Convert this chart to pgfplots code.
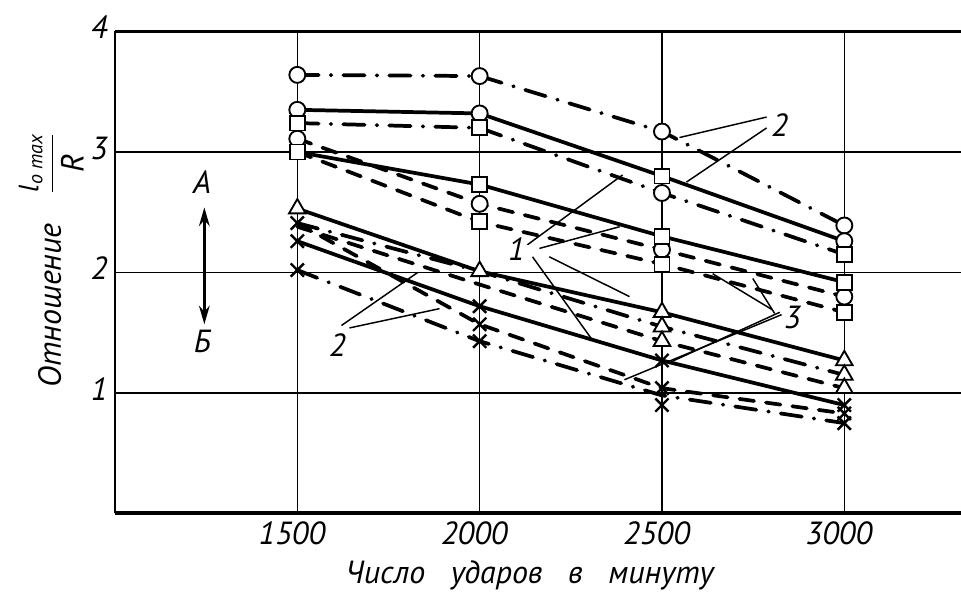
\documentclass[border=0pt]{standalone}
\usepackage{fontspec}
\setmainfont{PT Sans}
\usepackage{pgfplots}
\pgfplotsset{compat=1.18}
\usetikzlibrary{arrows.meta}

\newcommand{\lbl}{\itshape\fontsize{24}{26}\selectfont}

\pgfplotsset{
  solidln/.style={black, line width=2.8pt, no marks, line cap=round},
  dashdotln/.style={solidln, dash pattern=on 16pt off 9pt on 0.5pt off 9pt},
  dashedln/.style={solidln, dash pattern=on 11pt off 9pt},
  pts/.style={only marks, mark options={solid, fill=white, draw=black, line width=1.4pt}},
}

\begin{document}
\begin{tikzpicture}
\useasboundingbox (-86.25pt,-61.875pt) rectangle (634.5pt,385.125pt);
\begin{axis}[
  scale only axis, width=634.5pt, height=361.5pt,
  xmin=1000, xmax=3320, ymin=0, ymax=4,
  axis lines=left, axis line style={-},
  x axis line style={line width=3pt},
  y axis line style={line width=2.2pt},
  xtick={1500,2000,2500,3000}, ytick={1,2,3,4},
  major tick length=0pt,
  grid=major, major grid style={black, line width=1.2pt},
  /pgf/number format/assume math mode=true,
  /pgf/number format/1000 sep={},
  tick label style={font=\lbl},
  xticklabel style={xshift=-4pt, yshift=-3pt},
  yticklabel style={yshift=3pt, xshift=-2pt},
  clip=false,
]
\draw[line width=2pt] (axis cs:1000,4) -- (axis cs:3320,4);

% upper group
\addplot[dashdotln] coordinates {(1500,3.64) (2000,3.63) (2500,3.17) (3000,2.39)};
\addplot[solidln]   coordinates {(1500,3.35) (2000,3.32) (2500,2.80) (3000,2.26)};
\addplot[dashdotln] coordinates {(1500,3.24) (2000,3.20) (2500,2.66) (3000,2.15)};
% middle group
\addplot[solidln]   coordinates {(1500,3.00) (2000,2.73) (2500,2.30) (3000,1.92)};
\addplot[dashedln]  coordinates {(1500,3.11) (2000,2.57) (2500,2.19) (3000,1.80)};
\addplot[dashedln]  coordinates {(1500,3.00) (2000,2.42) (2500,2.07) (3000,1.67)};
% lower group
\addplot[solidln]   coordinates {(1500,2.53) (2000,2.01) (2500,1.67) (3000,1.27)};
\addplot[dashdotln] coordinates {(1500,2.41) (2000,2.01) (2500,1.55) (3000,1.15)};
\addplot[dashedln]  coordinates {(1500,2.38) (2000,1.90) (2500,1.43) (3000,1.04)};
\addplot[solidln]   coordinates {(1500,2.26) (2000,1.72) (2500,1.27) (3000,0.90)};
\addplot[dashedln]  coordinates {(1500,2.41) (2000,1.57) (2500,1.04) (3000,0.83)};
\addplot[dashdotln] coordinates {(1500,2.02) (2000,1.43) (2500,0.98) (3000,0.75)};

% markers
\addplot[pts, mark=*, mark size=6pt] coordinates {
  (1500,3.64) (1500,3.35) (1500,3.11)
  (2000,3.63) (2000,3.32) (2000,2.57)
  (2500,3.17) (2500,2.66) (2500,2.19)
  (3000,2.39) (3000,2.26) (3000,1.80)};
\addplot[pts, mark=square*, mark size=5.6pt] coordinates {
  (1500,3.24) (1500,3.00)
  (2000,3.20) (2000,2.73) (2000,2.42)
  (2500,2.80) (2500,2.30) (2500,2.07)
  (3000,2.15) (3000,1.92) (3000,1.67)};
\addplot[pts, mark=triangle*, mark size=7.2pt] coordinates {
  (1500,2.53) (2000,2.01)
  (2500,1.67) (2500,1.55) (2500,1.43)
  (3000,1.27) (3000,1.15) (3000,1.04)};
\addplot[only marks, mark=x, mark size=7pt, mark options={black, line width=1.8pt}] coordinates {
  (1500,2.41) (1500,2.26) (1500,2.02)
  (2000,1.72) (2000,1.57) (2000,1.43)
  (2500,1.27) (2500,1.04) (2500,0.90)
  (3000,0.90) (3000,0.83) (3000,0.75)};

% leader lines and labels
\begin{scope}[line width=1.1pt]
\draw (axis cs:2787,3.29) -- (axis cs:2548,3.12);
\draw (axis cs:2787,3.20) -- (axis cs:2567,2.75);
\draw (axis cs:2131,2.23) -- (axis cs:2392,2.81);
\draw (axis cs:2164,2.20) -- (axis cs:2384,2.38);
\draw (axis cs:2145,2.13) -- (axis cs:2309,1.44);
\draw (axis cs:2191,2.13) -- (axis cs:2411,1.80);
\draw (axis cs:2803,1.69) -- (axis cs:2639,1.99);
\draw (axis cs:2809,1.66) -- (axis cs:2749,1.95);
\draw (axis cs:2823,1.67) -- (axis cs:2526,1.26);
\draw (axis cs:2828,1.65) -- (axis cs:2397,1.11);
\draw (axis cs:1621,1.56) -- (axis cs:1830,2.00);
\draw (axis cs:1643,1.54) -- (axis cs:1890,1.70);
\end{scope}
\node[font=\lbl] at (axis cs:2823,3.22) {2};
\node[font=\lbl] at (axis cs:2101,2.19) {1};
\node[font=\lbl] at (axis cs:2858,1.63) {3};
\node[font=\lbl] at (axis cs:1610,1.40) {2};

\node[font=\lbl] at (axis cs:1239,2.75) {А};
\draw[line width=2pt, {Stealth[length=14pt,width=8pt]}-{Stealth[length=14pt,width=8pt]}]
  (axis cs:1245,2.54) -- (axis cs:1245,1.57);
\node[font=\lbl] at (axis cs:1239,1.43) {Б};

\node[font=\lbl] at (axis cs:2137,-0.51) {Число\ \ \ ударов\ \ \ в\ \ \ минуту};
\node[font=\lbl, rotate=90] at (axis cs:825,2.1)
  {Отношение\hspace{22pt}$\displaystyle\frac{\mbox{\fontsize{21}{21}\selectfont l\raisebox{-3pt}{\fontsize{15}{15}\selectfont o max}}}{\mbox{R}}$};
\end{axis}
\end{tikzpicture}
\end{document}
